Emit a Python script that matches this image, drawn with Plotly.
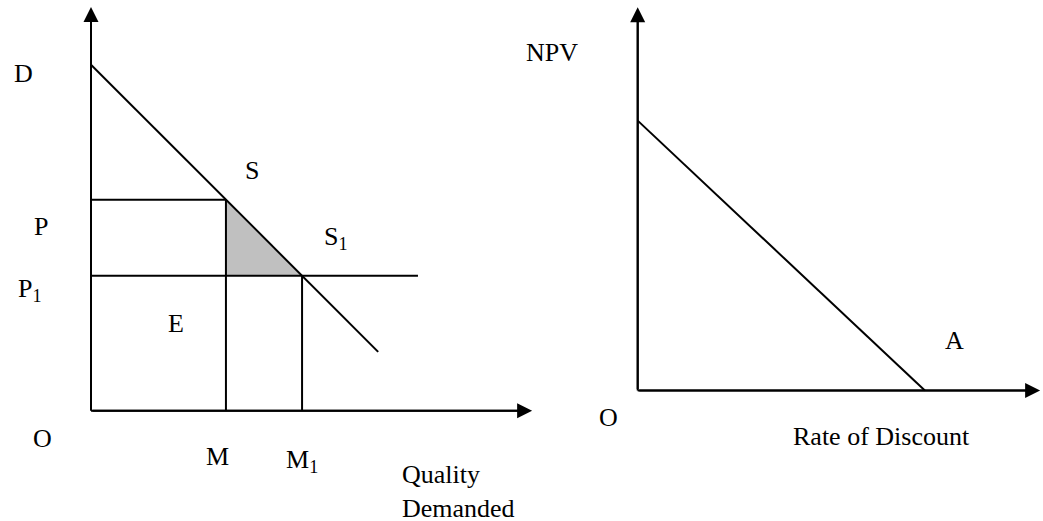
import plotly.graph_objects as go

# ---------------- data (diagram units) ----------------
# Left diagram: demand curve, price levels and quantities
demand_q = [0, 83]
demand_p = [100, 17]
price_levels = {"P": 61, "P1": 39}
quantities = {"M": 39, "M1": 61}
p1_line_end = 94.5
left_axis_tips = {"x": 127.5, "y": 116.7}

# Right diagram: NPV profile
npv_rate = [0, 83]
npv_value = [78, 0]
right_axis_tips = {"x": 116.3, "y": 110.8}

# Labels (text, x, y) in diagram units
left_labels = [
    ("D", -19.4, 97.6), ("P", -14.5, 53.1), ("P<sub>1</sub>", -17.5, 35.0),
    ("S", 46.5, 69.5), ("S<sub>1</sub>", 70.8, 50.0), ("E", 24.6, 25.3),
    ("O", -13.9, -7.9), ("M", 36.7, -13.1), ("M<sub>1</sub>", 61.0, -14.5),
]
left_axis_title = ("Quality<br>Demanded", 89.3, -23.4)
right_labels = [
    ("NPV", -24.8, 97.8), ("A", 91.5, 14.5), ("O", -8.3, -7.7),
    ("Rate of Discount", 70.6, -13.4),
]

# ---------------- layout geometry ----------------
W, H = 1043, 521
K = 3.46                     # pixels per diagram unit
left_dom = [0, 0.56]
right_dom = [0.45, 1]
left_origin = (91, 410.7)    # pixel position of origin
right_origin = (637.7, 390.5)

def xr(x0, dom):
    a, b = dom[0] * W, dom[1] * W
    return [(a - x0) / K, (b - x0) / K]

def yr(y0):
    return [-(H - y0) / K, y0 / K]

LINE = dict(color="black", width=2)
FONT = dict(family="Liberation Serif, Times New Roman, serif", size=26, color="black")

fig = go.Figure()

P, P1 = price_levels["P"], price_levels["P1"]
M, M1 = quantities["M"], quantities["M1"]

# shaded triangle
fig.add_trace(go.Scatter(x=[M, M, M1, M], y=[P, P1, P1, P], fill="toself",
                         fillcolor="#c0c0c0", line=dict(width=0), mode="lines",
                         xaxis="x", yaxis="y", hoverinfo="skip"))
# left lines
segs = [
    (demand_q, demand_p),
    ([0, M], [P, P]),
    ([0, p1_line_end], [P1, P1]),
    ([M, M], [0, P]),
    ([M1, M1], [0, P1]),
    ([0, left_axis_tips["x"] - 3], [0, 0]),
    ([0, 0], [0, left_axis_tips["y"] - 3]),
]
for xs, ys in segs:
    fig.add_trace(go.Scatter(x=xs, y=ys, mode="lines", line=LINE,
                             xaxis="x", yaxis="y", hoverinfo="skip"))
# right lines
segs_r = [
    (npv_rate, npv_value),
    ([0, right_axis_tips["x"] - 3], [0, 0]),
    ([0, 0], [0, right_axis_tips["y"] - 3]),
]
for xs, ys in segs_r:
    fig.add_trace(go.Scatter(x=xs, y=ys, mode="lines", line=LINE,
                             xaxis="x2", yaxis="y2", hoverinfo="skip"))

ann = []
def arrow(xref, yref, x, y):
    ann.append(dict(x=x, y=y, ax=0, ay=0, xref=xref, yref=yref, axref=xref, ayref=yref,
                    text="", showarrow=True, arrowhead=2, arrowsize=1.5,
                    arrowwidth=2, arrowcolor="black", standoff=0))

arrow("x", "y", left_axis_tips["x"], 0)
arrow("x", "y", 0, left_axis_tips["y"])
arrow("x2", "y2", right_axis_tips["x"], 0)
arrow("x2", "y2", 0, right_axis_tips["y"])

for t, x, y in left_labels:
    ann.append(dict(x=x, y=y, xref="x", yref="y", text=t, showarrow=False, font=FONT,
                    xanchor="center", yanchor="middle"))
t, x, y = left_axis_title
ann.append(dict(x=x, y=y, xref="x", yref="y", text=t, showarrow=False, font=FONT,
                xanchor="left", yanchor="middle", align="left"))
for t, x, y in right_labels:
    ann.append(dict(x=x, y=y, xref="x2", yref="y2", text=t, showarrow=False, font=FONT,
                    xanchor="center", yanchor="middle"))

ax_common = dict(visible=False, showgrid=False, zeroline=False, fixedrange=True)
fig.update_layout(
    width=W, height=H, margin=dict(l=0, r=0, t=0, b=0),
    paper_bgcolor="white", plot_bgcolor="rgba(0,0,0,0)", showlegend=False,
    xaxis=dict(domain=left_dom, range=xr(left_origin[0], left_dom), **ax_common),
    yaxis=dict(domain=[0, 1], range=yr(left_origin[1]), **ax_common),
    xaxis2=dict(domain=right_dom, range=xr(right_origin[0], right_dom), **ax_common),
    yaxis2=dict(domain=[0, 1], range=yr(right_origin[1]), anchor="x2", **ax_common),
    annotations=ann,
)
fig.write_html("out.html", config={"displayModeBar": False},
               post_script="document.body.style.margin='0px';document.body.style.overflow='hidden';")
